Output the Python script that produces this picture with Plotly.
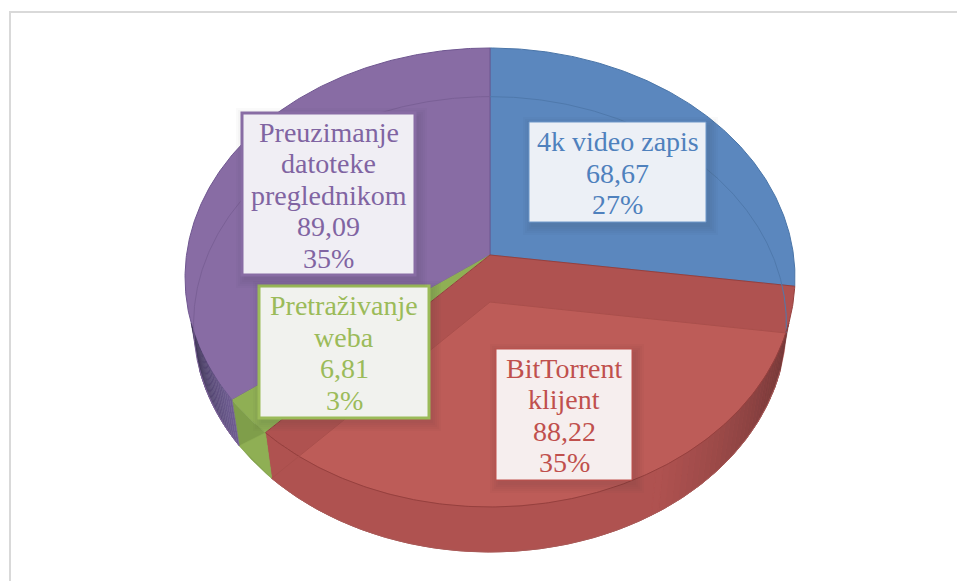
"""3D pie of traffic per application, drawn as filled paths on a pixel-sized axis."""

import numpy as np
import plotly.graph_objects as go

names = [["4k video zapis"], ["BitTorrent", "klijent"], ["Pretraživanje", "weba"], ["Preuzimanje", "datoteke", "preglednikom"]]
values = [68.67, 88.22, 6.81, 89.09]
value_labels = ["68,67", "88,22", "6,81", "89,09"]
percent_labels = ["27%", "35%", "3%", "35%"]

BLUE, RED, GREEN, PURPLE = "#5B87BE", "#AF5250", "#8BAA50", "#886CA4"
RED_LIGHT = "#BD5C58"
TEXT_COLORS = ["#4F81BD", "#C0504D", "#9BBB59", "#8064A2"]
BOX_FILLS = ["#ECF0F6", "#F6EEEE", "#F1F2EE", "#F0EEF4"]
# x0, y0, x1, y1 in pixels
BOXES = [(529, 122, 706, 222), (496, 349, 632, 480), (259, 286, 429, 418), (242, 113, 415, 275)]
BORDER_WIDTHS = [1, 1, 3, 3]
BOX_BORDERS = ["#6F98CA", "#C0504D", "#9BBB59", "#886CA4"]

CX = 490
K = 0.098  # perspective of the disc
TOP = dict(apex=255, rx=303.5, ry=227.3)
BOTTOM = dict(apex=302, rx=295, ry=225.5)

edges = 360 * np.cumsum([0] + values) / sum(values)


def rim(deg, face):
    t = np.radians(deg)
    u, v = np.sin(t), np.cos(t)
    d = 1 + K * v
    return CX + face["rx"] * u / d, face["apex"] - face["ry"] * v / d


def arc(a, b, face):
    return rim(np.linspace(a, b, max(int(abs(b - a) * 2), 2)), face)


def add_poly(fig, x, y, color, line=None, width=0):
    fig.add_trace(go.Scatter(
        x=np.r_[x, x[0]], y=np.r_[y, y[0]], mode="lines", fill="toself", fillcolor=color,
        line=dict(color=line or color, width=width if line else 0.5), hoverinfo="skip", showlegend=False,
    ))


def add_sector(fig, a, b, face, color, line=None):
    x, y = arc(a, b, face)
    add_poly(fig, np.r_[CX, x], np.r_[face["apex"], y], color, line, 1)


def add_wall(fig, a, b, color):
    xt, yt = arc(a, b, TOP)
    xb, yb = arc(b, a, BOTTOM)
    add_poly(fig, np.r_[xt, xb], np.r_[yt, yb], color)


def mix(c1, c2, f):
    a = [int(c1[i:i + 2], 16) for i in (1, 3, 5)]
    b = [int(c2[i:i + 2], 16) for i in (1, 3, 5)]
    return "#" + "".join(f"{round(p + (q - p) * f):02x}" for p, q in zip(a, b))


fig = go.Figure()

# top face
add_sector(fig, edges[0], edges[1], TOP, BLUE, "#4A75A8")
add_sector(fig, edges[3], edges[4], TOP, PURPLE, "#6F5690")
add_sector(fig, edges[2], edges[3], TOP, "#8FAF54")
add_sector(fig, edges[1], edges[2], TOP, RED, "#96403E")

# floor of the red slice, seen through the top
add_sector(fig, edges[1], edges[2], BOTTOM, RED_LIGHT)

# outer walls, shaded towards the silhouette
wall_start, wall_end = 107, 253
steps = np.linspace(wall_start, 150, 30)
for i in range(len(steps) - 1):
    add_wall(fig, steps[i], steps[i + 1], mix("#733838", RED, i / (len(steps) - 2)))
add_wall(fig, 150, edges[2], RED)
add_wall(fig, edges[2], edges[3], "#7F9E4A")
steps = np.linspace(edges[3], wall_end, 24)
for i in range(len(steps) - 1):
    add_wall(fig, steps[i], steps[i + 1], mix("#6F5D92", "#3F3558", i / (len(steps) - 2)))

# lighter corner of the green wall
bx, by = rim(np.array([edges[3], edges[2]]), BOTTOM)
tx, ty = rim(edges[2], TOP)
add_poly(fig, np.r_[bx, tx], np.r_[by, ty], "#8FAF54")

# faint rim lines
for a, b, face, color in [
    (edges[0], edges[1], BOTTOM, "#4F79AC"),
    (edges[3], edges[4], BOTTOM, "#7A6096"),
    (wall_end, edges[3], BOTTOM, "#7A6096"),
    (wall_start, edges[2], TOP, "#96403E"),
    (wall_start, edges[2], BOTTOM, "#A85A58"),
]:
    x, y = arc(a, b, face)
    fig.add_trace(go.Scatter(x=x, y=y, mode="lines", line=dict(color=color, width=1), hoverinfo="skip", showlegend=False))

# radial edges of the red floor
for deg in (edges[1], edges[2]):
    x, y = rim(deg, BOTTOM)
    fig.add_trace(go.Scatter(x=[CX, x], y=[BOTTOM["apex"], y], mode="lines", line=dict(color="#A94F4C", width=1),
                             hoverinfo="skip", showlegend=False))

shapes = [dict(type="rect", xref="x", yref="y", x0=10, y0=12, x1=1000, y1=640, layer="below",
               line=dict(color="#D9D9D9", width=2))]
annotations = []
PITCH = 31.5
for i, (x0, y0, x1, y1) in enumerate(BOXES):
    for grow in (9, 7, 5, 3, 1):
        shapes.append(dict(type="rect", xref="x", yref="y", layer="above", line_width=0,
                           x0=x0 - grow + 3, y0=y0 - grow + 4, x1=x1 + grow + 3, y1=y1 + grow + 4,
                           fillcolor="rgba(30,30,50,0.025)"))
    shapes.append(dict(type="rect", xref="x", yref="y", layer="above", x0=x0, y0=y0, x1=x1, y1=y1,
                       fillcolor=BOX_FILLS[i], line=dict(color=BOX_BORDERS[i], width=BORDER_WIDTHS[i])))
    lines = names[i] + [value_labels[i], percent_labels[i]]
    mid = (y0 + y1) / 2 + 1
    for j, text in enumerate(lines):
        annotations.append(dict(
            x=(x0 + x1) / 2, y=mid + (j - (len(lines) - 1) / 2) * PITCH, xref="x", yref="y", text=text,
            showarrow=False, xanchor="center", yanchor="middle",
            font=dict(family="Liberation Serif", size=28, color=TEXT_COLORS[i]),
        ))

fig.update_layout(
    width=957, height=581, margin=dict(l=0, r=0, t=0, b=0),
    paper_bgcolor="white", plot_bgcolor="white", showlegend=False,
    xaxis=dict(range=[0, 957], visible=False, fixedrange=True),
    yaxis=dict(range=[581, 0], visible=False, fixedrange=True),
    shapes=shapes, annotations=annotations,
)
fig.write_html("out.html", config=dict(displayModeBar=False),
               post_script="document.body.style.margin='0';document.body.style.overflow='hidden';")
